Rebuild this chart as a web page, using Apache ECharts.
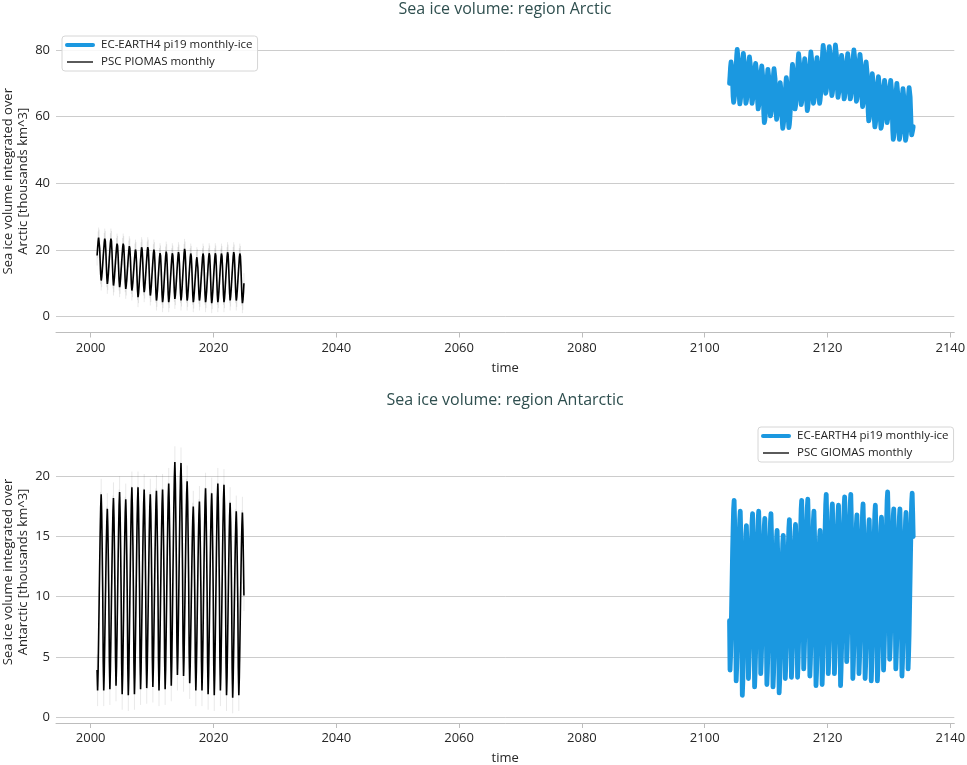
<!DOCTYPE html>
<html>
<head>
<meta charset="utf-8">
<script src="https://cdn.jsdelivr.net/npm/echarts@6/dist/echarts.min.js"></script>
<style>html,body{margin:0;padding:0;background:#fff}#chart{width:967px;height:765px}</style>
</head>
<body>
<div id="chart"></div>
<script>
// ---------------- data ----------------
const xTicks = [2000, 2020, 2040, 2060, 2080, 2100, 2120, 2140];
const arcticTicks = [0, 20, 40, 60, 80];
const antarcticTicks = [0, 5, 10, 15, 20];

const modelName = 'EC-EARTH4 pi19 monthly-ice';
const piomasName = 'PSC PIOMAS monthly';
const giomasName = 'PSC GIOMAS monthly';

// Arctic: PSC PIOMAS monthly, Jan 2001 .. Dec 2024 (thousand km^3)
const piomasStart = 2001;
const piomasErr = 3.0;
const piomas = [
  18.3,20.5,22.5,23.7,23.1,20.5,16.6,12.7,10.8,11.8,13.6,15.8,
  18.0,20.1,22.1,23.4,22.7,20.0,15.9,11.8,9.8,10.9,12.8,15.2,
  17.6,19.9,22.0,23.4,22.7,19.9,15.6,11.4,9.3,10.3,12.1,14.3,
  16.5,18.6,20.6,21.9,21.2,18.6,14.7,10.8,8.8,9.8,11.7,14.0,
  16.3,18.5,20.6,21.9,21.2,18.5,14.4,10.3,8.3,9.3,11.1,13.4,
  15.6,17.8,19.8,21.1,20.4,17.8,13.8,9.8,7.8,8.8,10.5,12.7,
  14.8,16.9,18.9,20.1,19.4,16.5,12.2,7.9,5.8,7.0,9.1,11.8,
  14.4,16.9,19.3,20.8,20.1,17.4,13.4,9.3,7.3,8.4,10.3,12.7,
  15.0,17.3,19.5,20.8,20.1,17.2,12.8,8.5,6.3,7.4,9.3,11.8,
  14.2,16.5,18.7,20.1,19.3,16.3,11.7,7.1,4.8,5.9,7.9,10.5,
  12.9,15.3,17.6,19.0,18.3,15.3,10.9,6.5,4.3,5.5,7.6,10.4,
  13.0,15.5,18.0,19.5,18.7,15.7,11.1,6.6,4.3,5.5,7.5,10.2,
  12.7,15.2,17.5,19.0,18.3,15.6,11.5,7.4,5.3,6.4,8.4,10.9,
  13.3,15.7,17.9,19.3,18.6,15.7,11.3,7.0,4.8,6.0,8.2,11.0,
  13.6,16.3,18.8,20.3,19.5,16.4,11.8,7.1,4.8,5.9,7.9,10.4,
  12.8,15.2,17.5,18.9,18.2,15.3,10.9,6.5,4.3,5.4,7.3,9.7,
  12.0,14.3,16.5,17.8,17.2,14.6,10.7,6.8,4.8,5.9,7.9,10.4,
  12.8,15.2,17.5,18.9,18.2,15.3,10.9,6.5,4.3,5.5,7.5,10.2,
  12.7,15.2,17.5,19.0,18.3,15.3,10.8,6.3,4.0,5.2,7.3,10.0,
  12.6,15.1,17.5,19.0,18.3,15.3,10.9,6.5,4.3,5.5,7.5,10.1,
  12.6,15.1,17.4,18.9,18.2,15.3,10.9,6.5,4.3,5.5,7.6,10.3,
  12.9,15.4,17.8,19.3,18.6,15.7,11.3,7.0,4.8,6.0,8.0,10.6,
  13.1,15.5,17.9,19.3,18.6,15.7,11.3,7.0,4.8,5.9,7.9,10.4,
  12.8,15.2,17.5,18.9,18.2,15.2,10.7,6.2,4.0,5.0,7.0,10.0
];

// Arctic: EC-EARTH4 pi19, Jan 2104 .. Dec 2133
const modelStart = 2104;
const ecArctic = [
  70.0,72.4,74.9,76.4,76.0,74.0,70.4,66.1,64.3,65.1,66.7,69.1,
  71.9,75.1,78.3,80.2,79.7,76.9,72.0,66.3,63.8,64.6,66.1,68.4,
  71.1,74.1,77.2,79.0,78.6,76.0,71.5,66.3,64.0,64.7,66.1,68.2,
  70.7,73.5,76.2,77.9,77.5,75.1,71.0,66.1,64.0,64.6,65.8,67.6,
  69.8,72.2,74.6,76.0,75.6,73.3,69.2,64.4,62.3,62.9,64.2,66.2,
  68.5,71.1,73.7,75.2,74.7,71.8,66.7,60.8,58.2,59.0,60.6,63.0,
  65.9,69.1,72.3,74.2,73.8,71.4,67.2,62.3,60.2,60.9,62.3,64.5,
  67.0,69.9,72.7,74.4,73.9,71.4,66.8,61.5,59.2,59.8,60.9,62.5,
  64.5,66.7,68.9,70.2,69.8,67.5,63.4,58.6,56.5,57.3,58.8,61.1,
  63.8,66.8,69.9,71.7,71.3,68.7,64.2,59.0,56.7,57.7,59.6,62.4,
  65.8,69.6,73.4,75.7,75.3,73.0,69.0,64.3,62.3,63.1,64.8,67.3,
  70.3,73.6,76.9,78.9,78.4,75.8,71.3,65.9,63.6,64.3,65.7,67.7,
  70.2,73.0,75.7,77.4,76.9,74.3,69.6,64.1,61.8,62.7,64.4,67.1,
  70.2,73.8,77.3,79.4,78.9,76.3,71.7,66.3,64.0,64.7,66.1,68.1,
  70.6,73.3,76.1,77.7,77.3,75.0,70.9,66.1,64.0,64.9,66.6,69.2,
  72.4,75.8,79.3,81.4,81.0,78.5,74.2,69.2,67.0,67.7,69.1,71.2,
  73.7,76.5,79.3,81.0,80.6,78.1,73.7,68.5,66.3,67.1,68.6,70.9,
  73.6,76.6,79.7,81.5,81.0,78.4,73.7,68.2,65.8,66.4,67.7,69.6,
  71.8,74.4,76.9,78.4,78.0,75.8,71.9,67.3,65.3,66.0,67.3,69.4,
  71.8,74.5,77.3,78.9,78.5,76.2,72.1,67.3,65.3,66.0,67.5,69.7,
  72.4,75.3,78.2,80.0,79.5,76.9,72.3,66.9,64.6,65.3,66.7,68.8,
  71.4,74.2,77.0,78.7,78.2,75.6,70.9,65.4,63.0,63.7,65.0,67.0,
  69.4,72.1,74.8,76.4,75.9,72.9,67.6,61.4,58.7,59.4,60.8,63.0,
  65.5,68.4,71.2,72.9,72.4,69.7,64.9,59.3,56.9,57.7,59.2,61.4,
  64.1,67.2,70.2,72.0,71.5,68.9,64.3,58.8,56.5,57.2,58.7,60.8,
  63.4,66.3,69.2,70.9,70.5,68.4,64.6,60.1,58.2,58.8,60.1,62.0,
  64.3,66.8,69.4,70.9,70.4,67.4,62.1,55.9,53.2,54.0,55.7,58.2,
  61.3,64.6,68.0,70.0,69.5,66.6,61.6,55.7,53.2,54.0,55.5,57.8,
  60.5,63.5,66.6,68.4,67.9,65.3,60.7,55.2,52.9,53.7,55.3,57.6,
  60.5,63.6,66.8,68.7,68.3,65.9,61.6,56.6,54.5,55.2,56.0,57.0
];

// Antarctic: PSC GIOMAS monthly, Jan 2001 .. Dec 2024
const giomasStart = 2001;
const giomasErr = 1.3;
const giomas = [
  3.9,2.2,3.8,6.6,9.5,12.5,15.2,17.4,18.5,16.9,13.9,10.4,
  4.6,2.2,3.7,6.3,9.0,11.7,14.3,16.2,17.3,15.8,13.1,9.8,
  4.6,2.3,3.9,6.6,9.5,12.3,15.0,17.1,18.2,16.6,13.8,10.4,
  4.9,2.6,4.2,6.9,9.8,12.7,15.5,17.6,18.7,17.0,14.0,10.3,
  4.4,1.9,3.5,6.3,9.2,12.1,14.9,17.0,18.1,16.5,13.5,10.0,
  4.2,1.8,3.5,6.5,9.6,12.7,15.6,17.9,19.1,17.4,14.3,10.5,
  4.5,1.9,3.6,6.5,9.6,12.7,15.7,17.9,19.1,17.4,14.4,10.7,
  4.8,2.3,4.0,6.8,9.8,12.8,15.6,17.7,18.9,17.2,14.3,10.6,
  4.8,2.4,4.0,6.7,9.6,12.5,15.3,17.4,18.5,16.9,14.0,10.5,
  4.9,2.5,4.1,6.9,9.8,12.8,15.5,17.7,18.8,17.1,14.2,10.5,
  4.7,2.2,3.9,6.7,9.7,12.7,15.6,17.7,18.9,17.2,14.3,10.6,
  4.8,2.3,4.0,6.9,10.0,13.1,16.0,18.2,19.4,17.7,14.7,11.0,
  5.1,2.6,4.5,7.6,11.0,14.3,17.5,19.9,21.2,19.4,16.2,12.4,
  6.2,3.5,5.3,8.3,11.4,14.6,17.6,19.9,21.1,19.3,16.1,12.3,
  6.1,3.4,5.0,7.8,10.7,13.6,16.4,18.5,19.6,17.9,14.9,11.2,
  5.3,2.8,4.3,6.8,9.4,12.1,14.6,16.5,17.5,16.0,13.2,9.9,
  4.5,2.2,3.8,6.4,9.3,12.1,14.8,16.8,17.9,16.3,13.5,10.1,
  4.6,2.2,3.9,6.7,9.8,12.8,15.6,17.8,19.0,17.3,14.2,10.5,
  4.5,1.9,3.6,6.4,9.4,12.4,15.3,17.4,18.6,16.9,13.9,10.2,
  4.3,1.8,3.6,6.6,9.7,12.9,15.9,18.2,19.4,17.7,14.6,10.8,
  4.8,2.2,3.9,6.8,9.9,13.0,15.9,18.1,19.3,17.6,14.4,10.6,
  4.4,1.8,3.4,6.1,9.0,11.9,14.6,16.7,17.8,16.2,13.3,9.7,
  4.0,1.6,3.2,5.8,8.6,11.4,14.0,16.0,17.1,15.6,12.8,9.5,
  4.1,1.8,3.3,5.9,8.6,11.4,14.0,15.9,17.0,15.6,13.0,10.1
];

// Antarctic: EC-EARTH4 pi19, Jan 2104 .. Dec 2133
const ecAntarctic = [
  8.0,3.9,5.0,6.7,9.0,11.4,13.8,15.7,17.3,18.0,16.2,13.5,
  7.5,3.0,4.1,5.8,8.1,10.5,12.9,14.8,16.4,17.1,15.3,12.5,
  6.4,1.8,2.9,4.6,6.9,9.3,11.7,13.6,15.2,15.9,14.4,12.1,
  7.0,3.2,4.3,5.9,8.1,10.5,12.8,14.7,16.2,16.9,15.2,12.6,
  6.8,2.5,3.7,5.4,7.8,10.2,12.7,14.8,16.4,17.1,15.5,13.1,
  7.7,3.6,4.6,6.2,8.2,10.4,12.6,14.4,15.9,16.5,14.8,12.4,
  6.8,2.7,3.8,5.5,7.8,10.2,12.6,14.6,16.2,16.9,15.2,12.6,
  6.8,2.5,3.5,5.1,7.2,9.4,11.6,13.4,14.9,15.5,13.9,11.5,
  6.1,2.0,3.0,4.6,6.7,8.9,11.2,13.0,14.4,15.1,13.7,11.5,
  6.8,3.2,4.3,5.8,8.0,10.2,12.4,14.3,15.7,16.4,14.8,12.5,
  7.2,3.3,4.3,5.8,7.9,10.0,12.2,14.0,15.4,16.0,14.5,12.2,
  7.1,3.3,4.5,6.2,8.6,11.1,13.6,15.6,17.3,18.0,16.3,13.8,
  8.2,4.0,5.1,6.8,9.1,11.5,13.9,15.8,17.4,18.1,16.3,13.7,
  7.8,3.4,4.5,6.1,8.3,10.7,13.0,14.9,16.4,17.1,15.4,12.8,
  7.0,2.6,3.6,5.2,7.2,9.4,11.6,13.4,14.9,15.5,14.0,11.7,
  6.5,2.7,4.0,5.9,8.4,11.1,13.8,16.0,17.7,18.5,16.7,14.0,
  8.1,3.6,4.7,6.4,8.7,11.1,13.5,15.4,17.0,17.7,16.0,13.5,
  7.8,3.6,4.7,6.4,8.6,11.0,13.4,15.4,16.9,17.6,15.8,13.1,
  7.1,2.6,3.9,5.7,8.3,10.9,13.6,15.8,17.5,18.3,16.7,14.2,
  8.7,4.6,5.7,7.4,9.6,12.0,14.3,16.3,17.8,18.5,16.7,13.9,
  7.8,3.2,4.3,5.9,8.1,10.4,12.7,14.6,16.1,16.8,15.2,12.8,
  7.6,3.6,4.7,6.4,8.7,11.1,13.5,15.4,17.0,17.7,16.0,13.4,
  7.6,3.2,4.3,5.8,8.0,10.2,12.4,14.3,15.7,16.4,14.8,12.4,
  7.0,3.0,4.2,5.9,8.3,10.7,13.2,15.3,16.9,17.6,15.8,13.2,
  7.4,3.0,4.1,5.7,7.9,10.2,12.5,14.4,15.9,16.6,15.1,12.8,
  7.7,3.9,5.1,6.9,9.2,11.7,14.3,16.3,18.0,18.7,17.0,14.5,
  9.0,4.8,5.8,7.3,9.3,11.4,13.6,15.3,16.7,17.3,15.7,13.3,
  8.0,4.0,5.1,6.7,8.8,11.0,13.3,15.2,16.6,17.3,15.6,13.1,
  7.6,3.4,4.5,6.1,8.3,10.6,12.9,14.8,16.3,17.0,15.4,13.1,
  7.9,4.0,5.2,6.9,9.3,11.7,14.2,16.3,17.9,18.6,17.0,15.0
];

// ---------------- chart ----------------
// monthly values -> [decimal year (mid-month), value]
function toPoints(start, vals) { return vals.map((v, i) => [start + (i + 0.5) / 12, v]); }
function toBars(start, vals, err) { return vals.map((v, i) => [start + (i + 0.5) / 12, v - err, v + err]); }

const FONT = "'Open Sans', 'Noto Sans', sans-serif";
const TXT = '#262626';
const BLUE = '#1b98e0';
const GRID_L = 56, GRID_R = 12.7;

function xAxis(gridIndex) {
  return {
    type: 'value', gridIndex: gridIndex, min: 1994.35, max: 2140.65,
    name: 'time', nameLocation: 'middle', nameGap: 29,
    nameTextStyle: { fontFamily: FONT, fontSize: 13, color: TXT },
    axisLine: { show: true, onZero: false, lineStyle: { color: '#bdbdbd', width: 1 } },
    axisTick: { show: true, length: 5, lineStyle: { color: '#bdbdbd', width: 1 }, customValues: xTicks },
    axisLabel: { customValues: xTicks, margin: 9, fontFamily: FONT, fontSize: 13, color: TXT,
                 formatter: function (v) { return String(Math.round(v)); } },
    splitLine: { show: false }
  };
}
function yAxis(gridIndex, min, max, ticks, name) {
  return {
    type: 'value', gridIndex: gridIndex, min: min, max: max,
    name: name, nameLocation: 'middle', nameRotate: 90, nameGap: 25, nameMoveOverlap: false,
    nameTextStyle: { fontFamily: FONT, fontSize: 13, color: TXT, lineHeight: 15 },
    axisLine: { show: false },
    axisTick: { show: false, customValues: ticks },
    axisLabel: { customValues: ticks, margin: 6, fontFamily: FONT, fontSize: 13, color: TXT,
                 formatter: function (v) { return String(Math.round(v)); } },
    splitLine: { show: true, lineStyle: { color: '#cccccc', width: 1 } }
  };
}
function errSeries(name, xi, data) {
  return {
    name: name + ' err', type: 'custom', xAxisIndex: xi, yAxisIndex: xi, silent: true, z: 1,
    data: data, encode: { x: 0, y: [1, 2] }, clip: true,
    renderItem: function (params, api) {
      const a = api.coord([api.value(0), api.value(1)]);
      const b = api.coord([api.value(0), api.value(2)]);
      return { type: 'line', shape: { x1: a[0], y1: a[1], x2: b[0], y2: b[1] },
               style: { stroke: 'rgba(0,0,0,0.09)', lineWidth: 1 } };
    }
  };
}
function legend(left, top, obsName) {
  return {
    left: left, top: top, orient: 'vertical',
    data: [
      { name: modelName, lineStyle: { width: 4, color: BLUE }, itemStyle: { opacity: 0 } },
      { name: obsName, lineStyle: { width: 1.3, color: '#000' }, itemStyle: { opacity: 0 } }
    ],
    itemWidth: 26, itemHeight: 14, itemGap: 5,
    padding: [3, 5, 3, 3],
    backgroundColor: 'rgba(255,255,255,0.85)', borderColor: '#d6d6d6', borderWidth: 1, borderRadius: 3,
    textStyle: { fontFamily: FONT, fontSize: 11.5, color: '#222', padding: [0, 0, 0, 3] },
    selectedMode: false
  };
}

const chart = echarts.init(document.getElementById('chart'), null, { renderer: 'canvas' });
chart.setOption({
  animation: false,
  backgroundColor: '#fff',
  textStyle: { fontFamily: FONT },
  graphic: [
    { type: 'text', x: 505, y: 9, silent: true,
      style: { text: 'Sea ice volume: region Arctic', align: 'center', verticalAlign: 'middle',
               fontFamily: FONT, fontSize: 16, fill: '#2f4f4f' } },
    { type: 'text', x: 505, y: 400, silent: true,
      style: { text: 'Sea ice volume: region Antarctic', align: 'center', verticalAlign: 'middle',
               fontFamily: FONT, fontSize: 16, fill: '#2f4f4f' } }
  ],
  grid: [
    { left: GRID_L, right: GRID_R, top: 30, height: 302.5, containLabel: false, outerBoundsMode: 'none' },
    { left: GRID_L, right: GRID_R, top: 421, height: 302, containLabel: false, outerBoundsMode: 'none' }
  ],
  xAxis: [xAxis(0), xAxis(1)],
  yAxis: [
    yAxis(0, -4.8, 86, arcticTicks, 'Sea ice volume integrated over\nArctic [thousands km^3]'),
    yAxis(1, -0.5, 24.6, antarcticTicks, 'Sea ice volume integrated over\nAntarctic [thousands km^3]')
  ],
  legend: [legend(62, 36, piomasName), legend(758, 427, giomasName)],
  series: [
    { name: modelName, type: 'line', xAxisIndex: 0, yAxisIndex: 0, symbol: 'none', z: 3,
      data: toPoints(modelStart, ecArctic),
      lineStyle: { width: 4.8, color: BLUE, cap: 'round', join: 'round' }, itemStyle: { color: BLUE } },
    errSeries(piomasName, 0, toBars(piomasStart, piomas, piomasErr)),
    { name: piomasName, type: 'line', xAxisIndex: 0, yAxisIndex: 0, symbol: 'none', z: 4,
      data: toPoints(piomasStart, piomas),
      lineStyle: { width: 1.6, color: '#000' }, itemStyle: { color: '#000' } },

    { name: modelName, type: 'line', xAxisIndex: 1, yAxisIndex: 1, symbol: 'none', z: 3,
      data: toPoints(modelStart, ecAntarctic),
      lineStyle: { width: 4.8, color: BLUE, cap: 'round', join: 'round' }, itemStyle: { color: BLUE } },
    errSeries(giomasName, 1, toBars(giomasStart, giomas, giomasErr)),
    { name: giomasName, type: 'line', xAxisIndex: 1, yAxisIndex: 1, symbol: 'none', z: 4,
      data: toPoints(giomasStart, giomas),
      lineStyle: { width: 1.6, color: '#000' }, itemStyle: { color: '#000' } }
  ]
});
</script>
</body>
</html>
